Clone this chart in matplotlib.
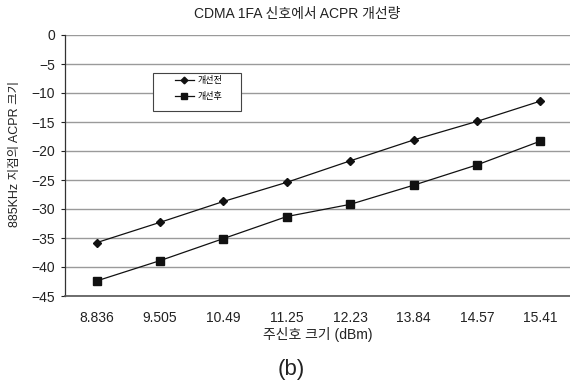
import matplotlib
matplotlib.use('Agg')
import matplotlib.pyplot as plt
from matplotlib.patches import Rectangle
import numpy as np

plt.rcParams['font.family'] = ['Liberation Sans', 'Noto Sans CJK KR']
plt.rcParams['axes.unicode_minus'] = True

# 데이터
categories = ['8.836', '9.505', '10.49', '11.25', '12.23', '13.84', '14.57', '15.41']
before = [-35.8, -32.3, -28.7, -25.4, -21.7, -18.1, -14.9, -11.4]   # 개선전
after = [-42.4, -38.9, -35.1, -31.3, -29.2, -25.9, -22.4, -18.3]    # 개선후
yticks = [0, -5, -10, -15, -20, -25, -30, -35, -40, -45]

W, H = 570, 384
fig = plt.figure(figsize=(W / 100, H / 100), dpi=100)
# 플롯 영역 (픽셀 기준)
ax = fig.add_axes([65 / W, 1 - 296 / H, 507 / W, 261 / H])

x = np.arange(len(categories))
ax.plot(x, before, color='#111111', lw=0.9, marker='D', ms=4.0, label='개선전', zorder=3)
ax.plot(x, after, color='#111111', lw=0.9, marker='s', ms=5.8, label='개선후', zorder=3)

ax.set_xlim(-0.5, len(categories) - 0.5)
ax.set_ylim(-45, 0)
ax.set_yticks(yticks)
ax.set_xticks(x)
ax.set_xticklabels(categories)
ax.tick_params(axis='x', length=0, pad=10.5, labelsize=10, colors='#222222')
ax.tick_params(axis='y', length=3, width=0.8, pad=4, labelsize=10, colors='#222222', direction='out')
ax.yaxis.grid(True, color='#9a9a9a', lw=1.0)
ax.set_axisbelow(True)

for s in ['top', 'right']:
    ax.spines[s].set_visible(False)
ax.spines['left'].set_color('#333333')
ax.spines['bottom'].set_color('#555555')
ax.spines['left'].set_linewidth(0.9)
ax.spines['bottom'].set_linewidth(1.2)

ax.set_ylabel('885KHz 지점의 ACPR 크기', fontsize=9, color='#222222')
ax.yaxis.set_label_coords((21 - 65) / 507, (296 - 154) / 261)
ax.set_xlabel('주신호 크기 (dBm)', fontsize=10, color='#222222')
ax.xaxis.set_label_coords((318 - 65) / 507, (296 - 327) / 261)

# 범례 상자
box = Rectangle((153 / W, 1 - 111 / H), 88 / W, 38 / H, transform=fig.transFigure,
                facecolor='white', edgecolor='#444444', lw=0.8, zorder=4)
ax.add_patch(box)
box.set_clip_on(False)
leg = ax.legend(loc='upper left', bbox_to_anchor=(175 / W, 1 - 76 / H),
                bbox_transform=fig.transFigure, fontsize=6.5, frameon=False,
                handlelength=2.1, borderpad=0, labelspacing=0.75,
                handletextpad=0.35, borderaxespad=0, markerscale=0.85)
leg.set_zorder(5)

fig.text(297 / W, 1 - 14 / H, 'CDMA 1FA 신호에서 ACPR 개선량', ha='center', va='center',
         fontsize=10, color='#222222')
fig.text(291 / W, 1 - 370 / H, '(b)', ha='center', va='center', fontsize=16, color='#222222')

fig.savefig('out.png', dpi=100)
